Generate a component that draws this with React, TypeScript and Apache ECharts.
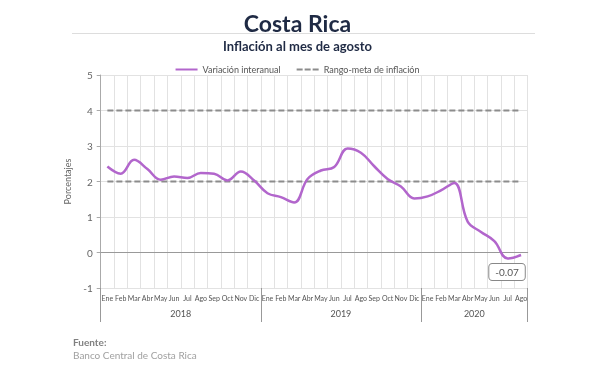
import React, { useEffect, useRef } from "react";
import * as echarts from "echarts";

const months = [
  "Ene", "Feb", "Mar", "Abr", "May", "Jun", "Jul", "Ago", "Sep", "Oct", "Nov", "Dic",
  "Ene", "Feb", "Mar", "Abr", "May", "Jun", "Jul", "Ago", "Sep", "Oct", "Nov", "Dic",
  "Ene", "Feb", "Mar", "Abr", "May", "Jun", "Jul", "Ago",
];
const years = ["2018", "2019", "2020"];
const yearCenters = [6, 18, 28];
const yearBounds = [0, 12, 24, 32];
const inflation = [
  2.42, 2.22, 2.61, 2.35, 2.05, 2.14, 2.1, 2.24, 2.22, 2.03, 2.28, 2.03,
  1.67, 1.56, 1.41, 2.07, 2.31, 2.41, 2.93, 2.81, 2.43, 2.07, 1.86, 1.52,
  1.58, 1.75, 1.96, 0.87, 0.58, 0.32, -0.17, -0.07,
];
const rangeLow = months.map(() => 2);
const rangeHigh = months.map(() => 4);
const lastLabel = "-0.07";

const FONT = "Lato, 'Noto Sans', sans-serif";

export default function App() {
  const ref = useRef<HTMLDivElement>(null);
  useEffect(() => {
    if (!ref.current) return;
    const chart = echarts.init(ref.current, undefined, { renderer: "svg" });
    const lastIdx = inflation.length - 1;
    chart.setOption({
      animation: false,
      textStyle: { fontFamily: FONT },
      graphic: [
        {
          type: "text",
          left: "center",
          top: 11,
          style: { text: "Costa Rica", fontSize: 23, fontWeight: "bold", fill: "#1f2a44", fontFamily: FONT },
        },
        {
          type: "line",
          shape: { x1: 72, y1: 33.5, x2: 535, y2: 33.5 },
          style: { stroke: "#dddddd", lineWidth: 1 },
        },
        {
          type: "text",
          left: "center",
          top: 39,
          style: { text: "Inflación al mes de agosto", fontSize: 13, fontWeight: "bold", fill: "#1f2a44", fontFamily: FONT },
        },
        {
          type: "text",
          left: 73,
          top: 337,
          style: { text: "Fuente:", fontSize: 10, fontWeight: "bold", fill: "#808080", fontFamily: FONT },
        },
        {
          type: "text",
          left: 73,
          top: 350,
          style: { text: "Banco Central de Costa Rica", fontSize: 10, fill: "#a0a0a0", fontFamily: FONT },
        },
      ],
      legend: {
        top: 60,
        left: "center",
        itemWidth: 22,
        itemHeight: 2,
        itemGap: 16,
        textStyle: { fontSize: 9, color: "#555", fontFamily: FONT },
        data: [
          { name: "Variación interanual", icon: "path://M0,0H22V2H0Z" },
          { name: "Rango-meta de inflación", icon: "path://M0,0H6V2H0ZM8,0H14V2H8ZM16,0H22V2H16Z" },
        ],
      },
      grid: { left: 100.7, right: 67.3, top: 75, bottom: 95, containLabel: false },
      xAxis: [
        {
          type: "category",
          data: months,
          boundaryGap: true,
          axisLine: { show: true, lineStyle: { color: "#999", width: 1 } },
          axisTick: { show: false },
          axisLabel: { interval: 0, fontSize: 7, color: "#555", margin: 6, fontFamily: FONT },
          splitLine: { show: true, interval: 0, lineStyle: { color: "#e2e2e2", width: 1 } },
        },
        {
          type: "value",
          position: "bottom",
          min: 0,
          max: 32,
          axisLine: { show: false },
          splitLine: { show: false },
          axisTick: { show: true, customValues: yearBounds, length: 34, lineStyle: { color: "#999", width: 1 } },
          axisLabel: {
            show: true,
            customValues: yearCenters,
            margin: 21,
            fontSize: 9,
            color: "#555",
            fontFamily: FONT,
            formatter: (v: number) => years[yearCenters.indexOf(v)] ?? "",
          },
        },
      ],
      yAxis: {
        type: "value",
        min: -1,
        max: 5,
        interval: 1,
        name: "Porcentajes",
        nameLocation: "middle",
        nameGap: 24,
        nameTextStyle: { fontSize: 9, color: "#666", fontFamily: FONT },
        axisLine: { show: true, lineStyle: { color: "#aaa" } },
        axisTick: { show: true, length: 4, lineStyle: { color: "#aaa" } },
        axisLabel: { fontSize: 10, color: "#666", margin: 8, fontFamily: FONT },
        splitLine: { show: true, lineStyle: { color: "#e2e2e2" } },
      },
      series: [
        {
          name: "Variación interanual",
          type: "line",
          data: inflation,
          smooth: 0.4,
          symbol: "none",
          lineStyle: { color: "#b266cc", width: 2.5 },
          itemStyle: { color: "#b266cc" },
          z: 5,
          markLine: {
            silent: true,
            symbol: "none",
            label: { show: false },
            lineStyle: { color: "#999", type: "solid", width: 1.2 },
            data: [{ yAxis: 0 }],
          },
          markPoint: {
            silent: true,
            symbol: "circle",
            symbolSize: 0,
            data: [
              {
                coord: [lastIdx, inflation[lastIdx]],
                label: {
                  show: true,
                  position: "bottom",
                  distance: 9,
                  offset: [-14, 0],
                  formatter: lastLabel,
                  color: "#555",
                  fontSize: 10,
                  fontFamily: FONT,
                  backgroundColor: "#fff",
                  borderColor: "#888",
                  borderWidth: 1,
                  borderRadius: 3,
                  padding: [3, 6, 3, 6],
                },
              },
            ],
          },
        },
        {
          name: "Rango-meta de inflación",
          type: "line",
          data: rangeLow,
          symbol: "none",
          lineStyle: { color: "#8c8c8c", width: 2, type: [6, 3] },
          itemStyle: { color: "#8c8c8c" },
          z: 3,
        },
        {
          name: "Rango-meta de inflación",
          type: "line",
          data: rangeHigh,
          symbol: "none",
          lineStyle: { color: "#8c8c8c", width: 2, type: [6, 3] },
          itemStyle: { color: "#8c8c8c" },
          z: 3,
        },
      ],
    });
    return () => chart.dispose();
  }, []);
  return <div ref={ref} style={{ position: "fixed", left: 0, top: 0, width: 595, height: 383 }} />;
}
